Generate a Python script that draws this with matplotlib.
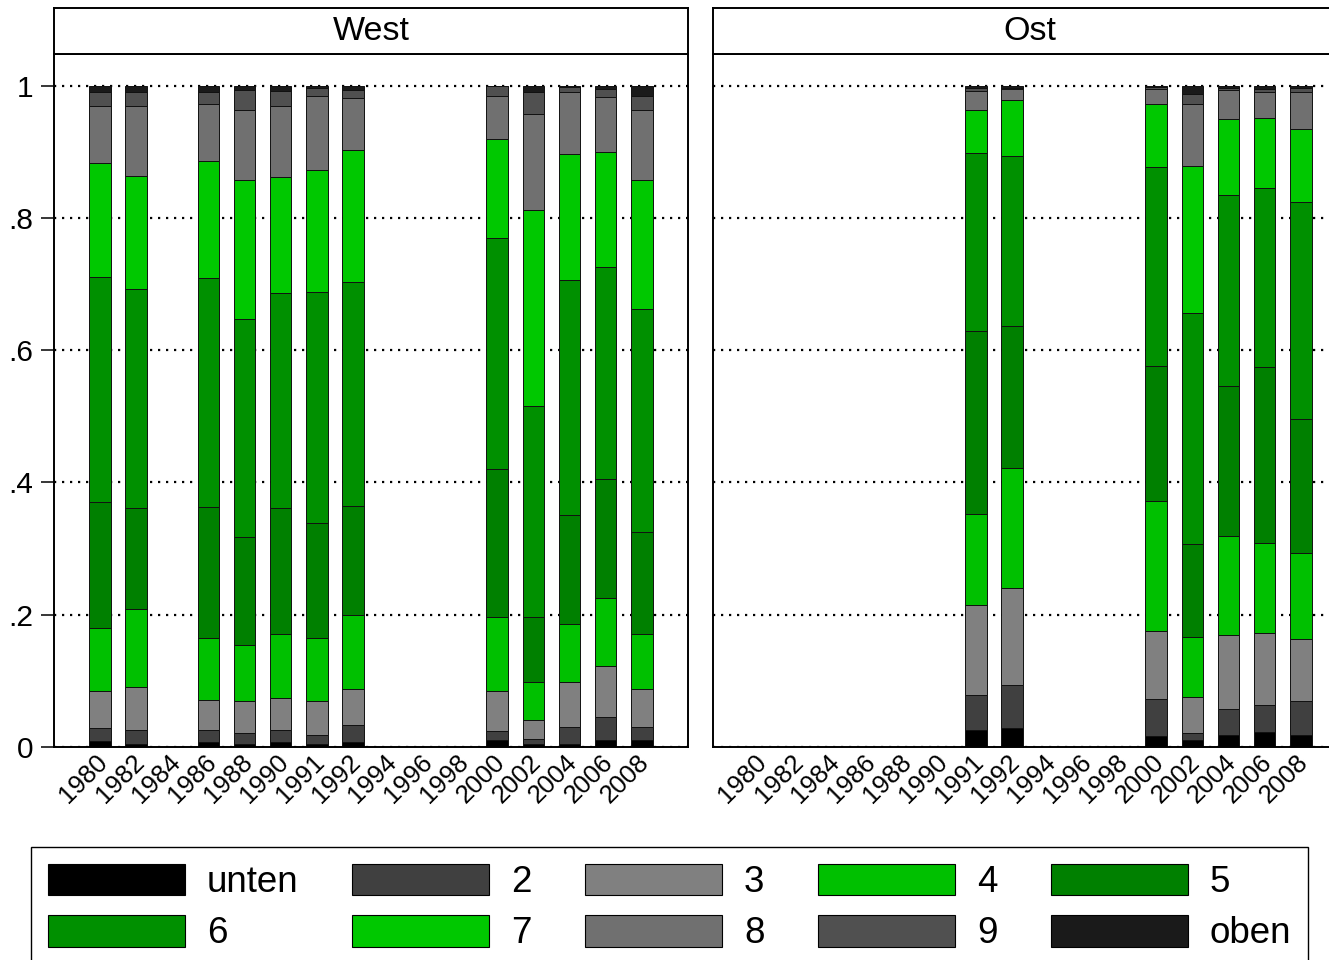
import matplotlib.pyplot as plt
from matplotlib.patches import Patch
from matplotlib.transforms import ScaledTranslation

plt.rcParams['font.family'] = ['Liberation Sans', 'DejaVu Sans']

# survey years on the category axis (both panels share it)
years = ['1980', '1982', '1984', '1986', '1988', '1990', '1991', '1992',
         '1994', '1996', '1998', '2000', '2002', '2004', '2006', '2008']

# self-placement on the scale, bottom to top
categories = ['unten', '2', '3', '4', '5', '6', '7', '8', '9', 'oben']
colors = ['#000000', '#404040', '#808080', '#00c000', '#008000',
          '#009000', '#00c800', '#707070', '#505050', '#1a1a1a']

# shares per year, one row per bar, columns follow `categories`
west_years = ['1980', '1982', '1986', '1988', '1990', '1991', '1992',
              '2000', '2002', '2004', '2006', '2008']
west_shares = [
    [0.009, 0.019, 0.057, 0.095, 0.191, 0.340, 0.172, 0.087, 0.020, 0.010],
    [0.005, 0.020, 0.066, 0.118, 0.152, 0.331, 0.172, 0.106, 0.020, 0.010],
    [0.008, 0.018, 0.045, 0.094, 0.198, 0.347, 0.176, 0.087, 0.017, 0.010],
    [0.005, 0.016, 0.049, 0.085, 0.163, 0.329, 0.210, 0.107, 0.029, 0.007],
    [0.008, 0.018, 0.048, 0.097, 0.190, 0.325, 0.176, 0.107, 0.023, 0.008],
    [0.005, 0.013, 0.052, 0.095, 0.173, 0.350, 0.185, 0.111, 0.012, 0.004],
    [0.008, 0.025, 0.054, 0.112, 0.165, 0.339, 0.200, 0.078, 0.012, 0.007],
    [0.010, 0.014, 0.061, 0.111, 0.225, 0.348, 0.151, 0.064, 0.015, 0.001],
    [0.005, 0.007, 0.029, 0.057, 0.098, 0.319, 0.297, 0.146, 0.032, 0.010],
    [0.005, 0.025, 0.068, 0.088, 0.165, 0.355, 0.191, 0.093, 0.008, 0.002],
    [0.011, 0.034, 0.078, 0.103, 0.179, 0.321, 0.174, 0.083, 0.012, 0.005],
    [0.010, 0.021, 0.057, 0.083, 0.154, 0.337, 0.195, 0.106, 0.021, 0.016],
]

ost_years = ['1991', '1992', '2000', '2002', '2004', '2006', '2008']
ost_shares = [
    [0.026, 0.052, 0.137, 0.138, 0.276, 0.269, 0.065, 0.029, 0.004, 0.004],
    [0.028, 0.066, 0.147, 0.181, 0.215, 0.256, 0.085, 0.017, 0.002, 0.003],
    [0.016, 0.057, 0.103, 0.196, 0.204, 0.301, 0.096, 0.022, 0.003, 0.002],
    [0.011, 0.010, 0.055, 0.091, 0.140, 0.349, 0.223, 0.093, 0.016, 0.012],
    [0.018, 0.040, 0.112, 0.149, 0.227, 0.289, 0.115, 0.043, 0.004, 0.003],
    [0.022, 0.041, 0.109, 0.136, 0.267, 0.271, 0.105, 0.039, 0.005, 0.005],
    [0.018, 0.052, 0.093, 0.131, 0.202, 0.328, 0.110, 0.056, 0.007, 0.003],
]

y_ticks = [0, 0.2, 0.4, 0.6, 0.8, 1.0]
y_labels = ['0', '.2', '.4', '.6', '.8', '1']

W, H = 1329, 960
SPINE_LW = 1.4


def px_box(x0, y0, x1, y1):
    # pixel box (top-left origin) -> figure fraction rect
    return [x0 / W, (H - y1) / H, (x1 - x0) / W, (y1 - y0) / H]


def draw_panel(ax, bar_years, shares):
    pos = [years.index(y) for y in bar_years]
    bottoms = [0.0] * len(pos)
    for k in range(len(categories)):
        vals = [row[k] for row in shares]
        ax.bar(pos, vals, width=0.6, bottom=bottoms, color=colors[k],
               edgecolor='#111111', linewidth=0.7, zorder=2)
        bottoms = [b + v for b, v in zip(bottoms, vals)]

    ax.set_xlim(-1.275, 16.28)
    ax.set_ylim(0, 1.048)
    ax.set_xticks(range(len(years)))
    ax.set_xticklabels(years, rotation=45, ha='right', va='center',
                       rotation_mode='anchor', fontsize=18.5)
    ax.tick_params(axis='x', length=0, pad=8)
    # nudge the slanted year labels a little to the right
    shift = ScaledTranslation(4 / 100, 0, fig.dpi_scale_trans)
    for lab in ax.get_xticklabels():
        lab.set_transform(lab.get_transform() + shift)
    ax.set_yticks(y_ticks)
    ax.yaxis.grid(True, color='black', linestyle=(0, (1, 2.6)), linewidth=1.6)
    ax.set_axisbelow(True)
    for sp in ax.spines.values():
        sp.set_linewidth(SPINE_LW)


def draw_strip(rect, title, cx=0.5):
    sax = fig.add_axes(rect)
    sax.set_xticks([])
    sax.set_yticks([])
    for sp in sax.spines.values():
        sp.set_linewidth(SPINE_LW)
    sax.text(cx, 0.5, title, transform=sax.transAxes,
             ha='center', va='center', fontsize=24.5)
    return sax


fig = plt.figure(figsize=(13.29, 9.6), dpi=100)

ax_w = fig.add_axes(px_box(54, 54, 688, 747))
draw_panel(ax_w, west_years, west_shares)
ax_w.set_yticklabels(y_labels, fontsize=21.5)
ax_w.tick_params(axis='y', length=9.5, width=1.1, pad=5.5)

ax_o = fig.add_axes(px_box(713, 54, 1347, 747))
draw_panel(ax_o, ost_years, ost_shares)
ax_o.tick_params(axis='y', left=False, labelleft=False)

draw_strip(px_box(54, 8, 688, 54), 'West')
# the right strip runs off the canvas; centre its title on the visible part
draw_strip(px_box(713, 8, 1347, 54), 'Ost', cx=(1030 - 713) / (1347 - 713))

# legend laid out row by row: matplotlib fills columns first, so interleave
order = [0, 5, 1, 6, 2, 7, 3, 8, 4, 9]
handles = [Patch(facecolor=colors[i], edgecolor='black', linewidth=0.8) for i in order]
labels = [categories[i] for i in order]
leg = fig.legend(handles, labels, loc='upper left', ncol=5, mode='expand',
                 bbox_to_anchor=(31 / W, (H - 847) / H, (1308 - 31) / W, 0),
                 bbox_transform=fig.transFigure, borderaxespad=0,
                 fontsize=26.5, handlelength=3.73, handleheight=0.95,
                 handletextpad=0.6, labelspacing=0.4, borderpad=0.45,
                 fancybox=False, framealpha=1, edgecolor='black')
leg.get_frame().set_linewidth(1.0)

fig.savefig('out.png', dpi=100)
